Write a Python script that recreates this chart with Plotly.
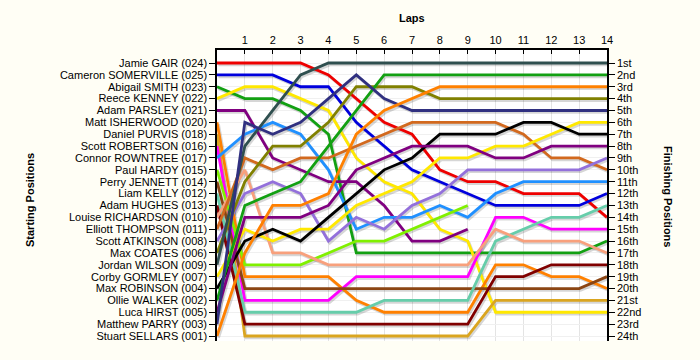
import plotly.graph_objects as go

laps = list(range(0, 15))
lap_ticks = list(range(1, 15))

start_names = [
    "Jamie GAIR (024)", "Cameron SOMERVILLE (025)", "Abigail SMITH (023)", "Reece KENNEY (022)",
    "Adam PARSLEY (021)", "Matt ISHERWOOD (020)", "Daniel PURVIS (018)", "Scott ROBERTSON (016)",
    "Connor ROWNTREE (017)", "Paul HARDY (015)", "Perry JENNETT (014)", "Liam KELLY (012)",
    "Adam HUGHES (013)", "Louise RICHARDSON (010)", "Elliott THOMPSON (011)", "Scott ATKINSON (008)",
    "Max COATES (006)", "Jordan WILSON (009)", "Corby GORMLEY (007)", "Max ROBINSON (004)",
    "Ollie WALKER (002)", "Luca HIRST (005)", "Matthew PARRY (003)", "Stuart SELLARS (001)",
]
finish_labels = ["1st", "2nd", "3rd"] + [f"{i}th" for i in range(4, 21)] + ["21st", "22nd", "23rd", "24th"]

N = None
pos_gair = [1, 1, 1, 1, 2, 4, 6, 7, 10, 11, 11, 12, 12, 12, 14]
pos_somerville = [2, 2, 2, 3, 3, 6, 8, 10, 11, 12, 13, 13, 13, 13, 12]
pos_smith = [3, 4, 4, 5, 7, 17, 17, 17, 17, 17, 17, 17, 17, 17, 16]
pos_kenney = [4, 3, 3, 4, 5, 9, 11, 12, 15, 16, 22, 22, 22, 22, 22]
pos_parsley = [5, 5, 9, 10, 11, 11, 13, 16, 16, 15, N, N, N, N, N]
pos_isherwood = [6, 19, 19, 19, 19, 21, 22, 22, 22, 22, 18, 18, 19, 19, 20]
pos_purvis = [7, 24, 24, 24, 24, 24, 24, 24, 24, 24, 21, 21, 21, 21, 21]
pos_robertson = [8, 21, 21, 21, 21, 19, 19, 19, 19, 19, 14, 14, 15, 15, 15]
pos_rowntree = [9, 7, 6, 7, 10, 15, 14, 14, 13, 14, 12, 11, 11, 11, 11]
pos_hardy = [10, 18, 18, 18, 17, 16, 16, 15, 14, 13, N, N, N, N, N]
pos_jennett = [11, 20, 20, 20, 20, 20, 20, 20, 20, 20, 20, 20, 20, 20, 19]
pos_kelly = [12, 22, 22, 22, 22, 22, 21, 21, 21, 21, 16, 15, 14, 14, 13]
pos_hughes = [13, 23, 23, 23, 23, 23, 23, 23, 23, 23, 19, 19, 18, 18, 18]
pos_richardson = [14, 10, 17, 17, 18, 18, 18, 18, 18, 18, 15, 16, 16, 16, 17]
pos_thompson = [15, 9, 10, 9, 9, 8, 7, 6, 6, 6, 6, 7, 9, 9, 10]
pos_atkinson = [16, 12, 11, 12, 16, 14, 15, 13, 12, 10, 10, 10, 10, 10, 9]
pos_coates = [17, 11, 8, 8, 6, 3, 3, 3, 4, 4, 4, 4, 4, 4, 4]
pos_wilson = [18, 8, 5, 2, 1, 1, 1, 1, 1, 1, 1, 1, 1, 1, 1]
pos_gormley = [19, 15, 16, 15, 15, 13, 12, 11, 9, 9, 8, 8, 7, 6, 6]
pos_robinson = [20, 16, 15, 16, 14, 12, 10, 9, 7, 7, 7, 6, 6, 7, 7]
pos_walker = [21, 13, 12, 11, 8, 5, 2, 2, 2, 2, 2, 2, 2, 2, 2]
pos_hirst = [22, 14, 14, 14, 13, 10, 9, 8, 8, 8, 9, 9, 8, 8, 8]
pos_parry = [23, 6, 7, 6, 4, 2, 4, 5, 5, 5, 5, 5, 5, 5, 5]
pos_sellars = [24, 17, 13, 13, 12, 7, 5, 4, 3, 3, 3, 3, 3, 3, 3]

positions = [
    pos_gair, pos_somerville, pos_smith, pos_kenney, pos_parsley, pos_isherwood,
    pos_purvis, pos_robertson, pos_rowntree, pos_hardy, pos_jennett, pos_kelly,
    pos_hughes, pos_richardson, pos_thompson, pos_atkinson, pos_coates, pos_wilson,
    pos_gormley, pos_robinson, pos_walker, pos_hirst, pos_parry, pos_sellars,
]

colors = [
    "#EE0000", "#0000DD", "#12A012", "#FFE800", "#800080", "#FF8000",
    "#DAA520", "#FF00FF", "#2090FF", "#80F000", "#8B4513", "#66CDAA",
    "#800000", "#F8A07C", "#D2691E", "#9370DB", "#808000", "#2F4F4F",
    "#FFE800", "#000000", "#12A012", "#800080", "#303080", "#FF8000",
]

shadow_dx = 0.05   # laps
shadow_dy = 0.15   # positions

fig = go.Figure()

# drop shadows
for name, pos in zip(start_names, positions):
    fig.add_trace(go.Scatter(
        x=[l + shadow_dx for l in laps],
        y=[p + shadow_dy if p is not None else None for p in pos],
        mode="lines", line=dict(color="rgba(0,0,0,0.16)", width=3),
        hoverinfo="skip", showlegend=False,
    ))

for name, pos, col in zip(start_names, positions, colors):
    fig.add_trace(go.Scatter(
        x=laps, y=pos, mode="lines", name=name,
        line=dict(color=col, width=2.8), showlegend=False,
    ))

# invisible trace for the right axis
fig.add_trace(go.Scatter(x=[0], y=[1], yaxis="y2", mode="markers",
                         marker=dict(opacity=0), hoverinfo="skip", showlegend=False))

yr = [24.42, -0.095]
font = dict(family="Liberation Sans, Arial, sans-serif", size=11, color="#000000")

fig.update_layout(
    width=700, height=360,
    margin=dict(l=217, r=93, t=50, b=19),
    paper_bgcolor="#FFFEF5",
    plot_bgcolor="#FFFFFF",
    font=font,
    xaxis=dict(
        range=[0, 14], side="top", tickvals=lap_ticks, ticktext=[str(v) for v in lap_ticks],
        ticks="inside", ticklen=4, tickcolor="#000", showline=True, linecolor="#000", linewidth=1.5,
        showgrid=True, gridcolor="#E4E4E4", gridwidth=1, zeroline=False, fixedrange=True,
    ),
    yaxis=dict(
        range=yr, tickvals=list(range(1, 25)), ticktext=start_names,
        ticks="outside", ticklen=6, tickcolor="#000", showline=True, linecolor="#000", linewidth=1.5,
        showgrid=True, gridcolor="#F0F0F0", zeroline=False,
    ),
    yaxis2=dict(
        range=yr, overlaying="y", side="right", anchor="x",
        tickvals=list(range(1, 25)), ticktext=finish_labels,
        ticks="outside", ticklen=6, tickcolor="#000", showline=True, linecolor="#000", linewidth=1.5,
        showgrid=False, zeroline=False,
    ),
    annotations=[
        dict(text="<b>Laps</b>", xref="paper", yref="paper", x=0.5, y=(341 - 18) / 291,
             xanchor="center", yanchor="middle", showarrow=False, font=dict(size=11)),
        dict(text="<b>Starting Positions</b>", xref="paper", yref="paper",
             x=(30 - 217) / 390, y=(341 - 200) / 291, xanchor="center", yanchor="middle",
             showarrow=False, textangle=-90, font=dict(size=11)),
        dict(text="<b>Finishing Positions</b>", xref="paper", yref="paper",
             x=(668 - 217) / 390, y=(341 - 196) / 291, xanchor="center", yanchor="middle",
             showarrow=False, textangle=90, font=dict(size=11)),
    ],
)

fig.write_html(
    "out.html",
    config={"displayModeBar": False},
    post_script="document.body.style.margin='0';document.body.style.background='#FFFEF5';",
)
